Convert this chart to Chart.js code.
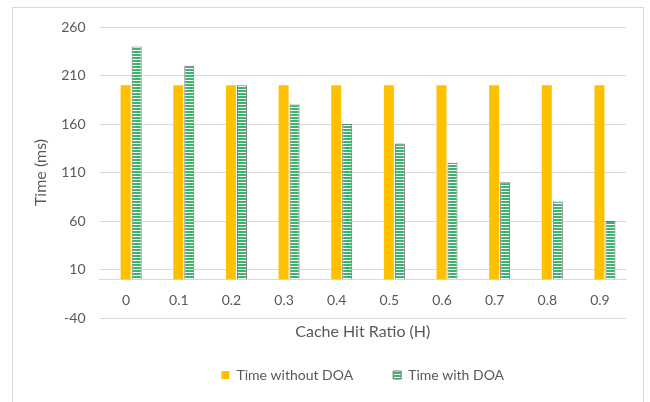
<!DOCTYPE html>
<html>
<head>
<meta charset="utf-8">
<script src="https://cdn.jsdelivr.net/npm/chart.js@4.4.1/dist/chart.umd.min.js"></script>
<style>
  html, body { margin: 0; padding: 0; background: #ffffff; width: 650px; height: 402px; overflow: hidden; }
  #frame { position: absolute; left: 12px; top: 7px; width: 632px; height: 430px; border: 1px solid #d9d9d9; box-sizing: border-box; }
  #chart { position: absolute; left: 0; top: 0; }
</style>
</head>
<body>
<div id="frame"></div>
<canvas id="chart" width="650" height="402"></canvas>
<script>
// Cache hit ratio categories (x axis tick labels)
const hitRatios = ['0', '0.1', '0.2', '0.3', '0.4', '0.5', '0.6', '0.7', '0.8', '0.9'];
// Response time in ms for each hit ratio
const timeWithoutDOA = [200, 200, 200, 200, 200, 200, 200, 200, 200, 200];
const timeWithDOA = [240, 220, 200, 180, 160, 140, 120, 100, 80, 60];
// Value axis ticks
const yTicks = [-40, 10, 60, 110, 160, 210, 260];

const textColor = '#595959';
const gridColor = '#d9d9d9';
// bar pairs sit slightly right of each category label
const groupShift = 0.1;

Chart.defaults.font.family = 'Lato, "Open Sans", sans-serif';
Chart.defaults.color = textColor;

const canvas = document.getElementById('chart');
const ctx = canvas.getContext('2d');

// narrow horizontal stripes: green with thin white lines
function stripePattern() {
  const tile = document.createElement('canvas');
  tile.width = 4;
  tile.height = 3;
  const g = tile.getContext('2d');
  g.fillStyle = '#ffffff';
  g.fillRect(0, 0, 4, 3);
  g.fillStyle = '#3cb46e';
  g.fillRect(0, 0, 4, 2);
  return ctx.createPattern(tile, 'repeat');
}

const toPoints = values => values.map((v, i) => ({ x: i, y: v }));

new Chart(ctx, {
  type: 'bar',
  data: {
    datasets: [
      {
        label: 'Time without DOA',
        data: toPoints(timeWithoutDOA),
        backgroundColor: '#ffc000',
        borderWidth: 0,
        categoryPercentage: 0.418,
        barPercentage: 0.91
      },
      {
        label: 'Time with DOA',
        data: toPoints(timeWithDOA),
        backgroundColor: stripePattern(),
        borderColor: '#6f6f6f',
        borderWidth: 1,
        categoryPercentage: 0.418,
        barPercentage: 0.91
      }
    ]
  },
  options: {
    responsive: false,
    animation: false,
    devicePixelRatio: 1,
    layout: { padding: { left: 14, right: 24, top: 27, bottom: 10 } },
    scales: {
      x: {
        type: 'linear',
        position: { y: 0 },
        offset: false,
        min: -0.5 - groupShift,
        max: hitRatios.length - 0.5 - groupShift,
        afterBuildTicks: scale => { scale.ticks = hitRatios.map((_, i) => ({ value: i })); },
        grid: { display: false, drawTicks: false, offset: false },
        border: { display: true, color: gridColor, width: 1 },
        ticks: {
          autoSkip: false,
          maxRotation: 0,
          padding: 13,
          labelOffset: -5,
          color: textColor,
          font: { size: 14 },
          callback: v => hitRatios[v]
        },
        title: {
          display: true,
          text: 'Cache Hit Ratio (H)',
          color: textColor,
          font: { size: 16 },
          padding: { top: 0, bottom: 0 }
        }
      },
      y: {
        min: -40,
        max: 260,
        afterBuildTicks: scale => { scale.ticks = yTicks.map(v => ({ value: v })); },
        grid: { color: gridColor, lineWidth: 1, drawTicks: false },
        border: { display: false },
        ticks: { padding: 14, color: textColor, font: { size: 14 } },
        title: {
          display: true,
          text: 'Time (ms)',
          color: textColor,
          font: { size: 16 },
          padding: { top: 17, bottom: -3 }
        }
      }
    },
    plugins: {
      legend: {
        position: 'bottom',
        fullSize: false,
        title: { display: true, text: '', padding: 0, font: { size: 10, lineHeight: 1 } },
        labels: {
          boxWidth: 8,
          boxHeight: 8,
          padding: 40,
          color: textColor,
          font: { size: 14 }
        }
      },
      tooltip: { enabled: false }
    }
  }
});
</script>
</body>
</html>
